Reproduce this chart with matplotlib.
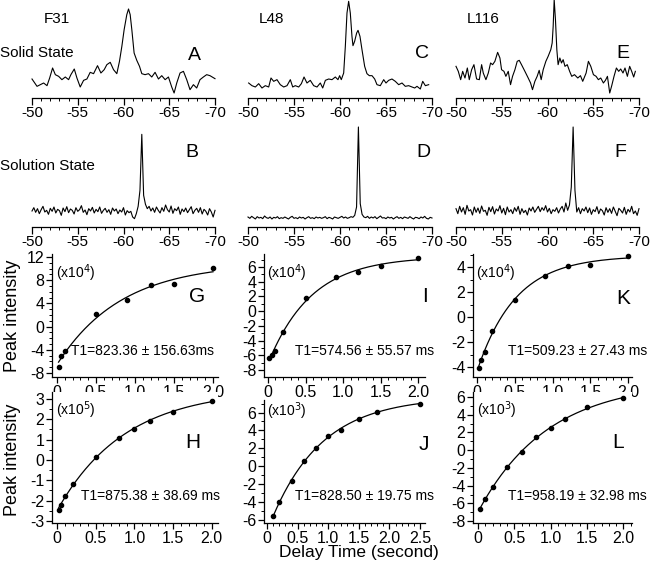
import numpy as np
import matplotlib
matplotlib.use('Agg')
import matplotlib.pyplot as plt
from matplotlib.ticker import MultipleLocator

plt.rcParams['font.family'] = ['Liberation Sans', 'DejaVu Sans']
plt.rcParams['axes.unicode_minus'] = False

# ---- solid state spectra (ppm, intensity) ----
a_ppm = [-50.0, -50.55, -50.91, -51.27, -51.64, -51.93, -52.25, -52.55, -52.91, -53.27,
         -53.64, -54.0, -54.25, -54.62, -54.91, -55.27, -55.64, -56.0, -56.36, -56.73,
         -57.16, -57.53, -57.89, -58.18, -58.55, -58.91, -59.27, -59.56, -59.82, -60.07,
         -60.36, -60.55, -60.73, -60.91, -61.16, -61.45, -61.75, -62.0, -62.36, -62.73,
         -63.09, -63.45, -63.82, -64.18, -64.55, -64.91, -65.27, -65.53, -65.82, -66.18,
         -66.55, -66.91, -67.27, -67.64, -68.0, -68.36, -68.73, -69.09, -69.45, -70.0]
a_int = [57, 35, 40, 45, 37, 60, 90, 70, 65, 55,
         63, 55, 70, 87, 60, 33, 53, 57, 77, 73,
         97, 75, 85, 100, 107, 85, 73, 110, 155, 205,
         250, 267, 250, 205, 135, 113, 95, 73, 70, 73,
         63, 77, 57, 67, 55, 63, 33, 15, 45, 75,
         80, 55, 25, 40, 30, 55, 63, 70, 67, 58]

c_ppm = [-50.07, -50.43, -50.8, -51.16, -51.52, -51.88, -52.25, -52.5, -52.79, -53.15,
         -53.51, -53.88, -54.24, -54.6, -54.86, -55.14, -55.51, -55.8, -56.09, -56.41,
         -56.77, -57.14, -57.5, -57.86, -58.12, -58.41, -58.77, -59.13, -59.49, -59.78,
         -59.96, -60.14, -60.4, -60.58, -60.76, -60.94, -61.12, -61.3, -61.41, -61.59,
         -61.81, -61.96, -62.17, -62.39, -62.68, -62.93, -63.19, -63.48, -63.77, -64.02,
         -64.38, -64.75, -65.0, -65.29, -65.65, -66.01, -66.38, -66.74, -67.1, -67.46,
         -67.83, -68.12, -68.37, -68.73, -68.99, -69.28, -69.64]
c_int = [45, 37, 33, 43, 30, 37, 33, 60, 50, 55,
         40, 33, 37, 55, 33, 37, 33, 43, 63, 45,
         53, 37, 33, 45, 30, 53, 57, 55, 63, 55,
         67, 55, 75, 155, 255, 290, 255, 185, 157, 170,
         195, 203, 185, 145, 95, 73, 67, 67, 57, 40,
         37, 55, 45, 53, 57, 50, 40, 45, 35, 37,
         33, 30, 35, 27, 50, 37, 40]

e_ppm = [-50.0, -50.25, -50.51, -50.73, -50.98, -51.24, -51.45, -51.71, -51.96, -52.25,
         -52.55, -52.8, -52.98, -53.27, -53.53, -53.78, -54.0, -54.25, -54.55, -54.8,
         -54.98, -55.24, -55.45, -55.71, -55.96, -56.18, -56.44, -56.69, -56.91, -57.16,
         -57.53, -57.89, -58.15, -58.36, -58.62, -58.87, -59.09, -59.31, -59.53, -59.82,
         -60.07, -60.36, -60.51, -60.62, -60.73, -60.87, -61.02, -61.16, -61.35, -61.53,
         -61.71, -61.91, -62.16, -62.42, -62.65, -62.95, -63.31, -63.6, -63.85, -64.22,
         -64.47, -64.73, -65.02, -65.31, -65.56, -65.82, -66.11, -66.33, -66.55, -66.8,
         -67.02, -67.27, -67.53, -67.78, -68.0, -68.25, -68.47, -68.73, -68.98, -69.2,
         -69.42, -69.6]
e_int = [95, 80, 55, 80, 60, 90, 55, 85, 100, 57,
         55, 100, 75, 55, 75, 105, 100, 110, 137, 120,
         85, 80, 65, 80, 40, 65, 85, 110, 113, 100,
         80, 60, 45, 25, 50, 65, 83, 55, 85, 110,
         125, 145, 165, 215, 295, 235, 145, 100, 120, 105,
         115, 95, 100, 80, 65, 70, 60, 67, 50, 75,
         110, 95, 70, 65, 55, 60, 45, 53, 65, 15,
         37, 65, 90, 80, 87, 75, 90, 65, 95, 80,
         63, 80]

# ---- solution state spectra, ppm grid -50 .. -70 (101 points) ----
sol_ppm = np.linspace(-50, -70, 101)
b_int = [48, 58, 44, 55, 40, 52, 62, 45, 50, 38, 56, 47, 60, 42, 53, 49, 35, 57, 46, 61,
         43, 54, 50, 39, 58, 47, 52, 64, 44, 51, 37, 55, 48, 59, 42, 53, 46, 60, 41, 50,
         56, 44, 52, 38, 57, 48, 54, 40, 51, 45, 58, 36, 49, 43, 47, 30, 25, 40, 62, 110,
         278, 95, 68, 55, 62, 48, 57, 44, 60, 50, 42, 58, 47, 66, 52, 45, 63, 41, 55, 49,
         60, 38, 54, 46, 57, 43, 52, 61, 40, 50, 56, 44, 58, 39, 53, 47, 36, 55, 45, 30, 50]
d_int = [30, 26, 32, 28, 24, 31, 27, 29, 25, 33, 28, 26, 30, 24, 29, 27, 31, 25, 28, 26,
         30, 27, 24, 29, 32, 26, 28, 25, 30, 27, 29, 24, 28, 31, 26, 28, 25, 30, 27, 29,
         26, 28, 31, 25, 29, 27, 24, 30, 28, 26, 29, 32, 27, 30, 26, 28, 31, 29, 35, 60,
         300, 70, 38, 30, 28, 32, 26, 30, 27, 31, 25, 29, 33, 27, 28, 25, 30, 27, 29, 24,
         28, 31, 26, 29, 25, 30, 28, 26, 31, 27, 24, 29, 28, 25, 30, 27, 32, 26, 24, 29, 27]
f_int = [55, 40, 62, 45, 58, 38, 65, 48, 52, 36, 60, 44, 57, 41, 63, 47, 50, 35, 59, 46,
         61, 39, 54, 48, 64, 42, 56, 37, 60, 45, 52, 40, 58, 47, 62, 38, 55, 43, 50, 36,
         57, 48, 60, 44, 53, 62, 46, 58, 50, 64, 45, 56, 40, 52, 47, 58, 42, 54, 62, 45,
         72, 50, 66, 120, 300, 110, 45, 58, 40, 55, 48, 60, 43, 57, 38, 52, 46, 61, 40, 54,
         49, 36, 58, 44, 55, 41, 60, 47, 34, 56, 50, 42, 59, 38, 53, 45, 62, 40, 48, 35, 55]

# ---- T1 relaxation data (delay in s, peak intensity) ----
g_t = [0.02, 0.05, 0.1, 0.5, 0.9, 1.2, 1.5, 2.0]
g_y = [-7.0, -5.1, -4.2, 2.1, 4.5, 7.1, 7.3, 10.1]
i_t = [0.02, 0.05, 0.1, 0.2, 0.5, 0.9, 1.2, 1.5, 2.0]
i_y = [-6.3, -5.9, -5.4, -2.9, 1.8, 4.6, 5.3, 6.1, 7.2]
k_t = [0.02, 0.05, 0.1, 0.2, 0.5, 0.9, 1.2, 1.5, 2.0]
k_y = [-4.1, -3.4, -2.8, -1.1, 1.4, 3.3, 4.1, 4.2, 4.85]
h_t = [0.02, 0.05, 0.1, 0.2, 0.5, 0.8, 1.0, 1.2, 1.5, 2.0]
h_y = [-2.45, -2.2, -1.78, -1.2, 0.13, 1.1, 1.53, 1.92, 2.35, 2.92]
j_t = [0.1, 0.2, 0.4, 0.6, 0.8, 1.0, 1.2, 1.5, 1.8, 2.5]
j_y = [-5.6, -4.0, -1.65, 0.6, 2.0, 3.35, 4.1, 5.3, 6.1, 6.95]
l_t = [0.02, 0.1, 0.2, 0.4, 0.6, 0.8, 1.0, 1.2, 1.5, 2.0]
l_y = [-6.65, -5.5, -4.2, -1.85, -0.15, 1.45, 2.45, 3.55, 4.85, 5.85]

t1_values = [0.82336, 0.57456, 0.50923, 0.87538, 0.82850, 0.95819]
t1_labels = ['T1=823.36 \u00b1 156.63ms', 'T1=574.56 \u00b1 55.57 ms', 'T1=509.23 \u00b1 27.43 ms',
             'T1=875.38 \u00b1 38.69 ms', 'T1=828.50 \u00b1 19.75 ms', 'T1=958.19 \u00b1 32.98 ms']
scales = ['(x10$^4$)', '(x10$^4$)', '(x10$^4$)', '(x10$^5$)', '(x10$^3$)', '(x10$^3$)']

W, H = 650, 564
fig = plt.figure(figsize=(W / 100, H / 100), dpi=100)


def px_axes(l, t, r, b):
    return fig.add_axes([l / W, 1 - b / H, (r - l) / W, (b - t) / H])


def px_text(x, y, s, size, **kw):
    fig.text(x / W, 1 - y / H, s, fontsize=size, ha=kw.pop('ha', 'center'),
             va=kw.pop('va', 'center'), **kw)


def spectrum(l, r, t, b, ppm, inten, ylim):
    ax = px_axes(l, t, r, b)
    ax.plot(ppm, inten, color='black', lw=0.8, clip_on=False)
    ax.set_xlim(-50, -70)
    ax.set_ylim(ylim)
    for s in ['left', 'right', 'top']:
        ax.spines[s].set_visible(False)
    ax.spines['bottom'].set_linewidth(0.9)
    ax.set_yticks([])
    ax.set_xticks([-50, -55, -60, -65, -70])
    ax.xaxis.set_minor_locator(MultipleLocator(1))
    ax.tick_params(axis='x', which='major', length=5, width=0.9, labelsize=11, pad=1)
    ax.tick_params(axis='x', which='minor', length=2.5, width=0.7)
    ax.patch.set_alpha(0)
    return ax


cols = [(32, 215), (248, 432), (456, 639)]
spectrum(*cols[0], 0, 98, a_ppm, a_int, (0, 294))
spectrum(*cols[1], 0, 98, c_ppm, c_int, (0, 294))
spectrum(*cols[2], 0, 98, e_ppm, e_int, (0, 294))
spectrum(*cols[0], 127, 227, sol_ppm, b_int, (0, 300))
spectrum(*cols[1], 127, 227, sol_ppm, d_int, (0, 300))
spectrum(*cols[2], 127, 227, sol_ppm, f_int, (0, 300))


def t1_panel(box, xlim, ylim, t, y, T1, xmaj, ymaj, yminor, label, scale, letter, lpos,
             spos, tpos):
    ax = px_axes(*box)
    t = np.array(t)
    y = np.array(y)
    # least squares for fixed T1: y = a + b*exp(-t/T1)
    M = np.column_stack([np.ones_like(t), np.exp(-t / T1)])
    coef = np.linalg.lstsq(M, y, rcond=None)[0]
    tt = np.linspace(t[0], t[-1], 200)
    ax.plot(tt, coef[0] + coef[1] * np.exp(-tt / T1), color='black', lw=0.9)
    ax.plot(t, y, 'o', color='black', ms=3, clip_on=False)
    ax.set_xlim(xlim)
    ax.set_ylim(ylim)
    for s in ['right', 'top']:
        ax.spines[s].set_visible(False)
    for s in ['left', 'bottom']:
        ax.spines[s].set_linewidth(0.9)
    ax.xaxis.set_major_locator(MultipleLocator(xmaj))
    ax.xaxis.set_minor_locator(MultipleLocator(xmaj / 5))
    ax.yaxis.set_major_locator(MultipleLocator(ymaj))
    ax.yaxis.set_minor_locator(MultipleLocator(yminor))
    ax.xaxis.set_major_formatter(lambda v, p: '0' if abs(v) < 1e-9 else f'{v:.1f}')
    ax.yaxis.set_major_formatter(lambda v, p: f'{v:.0f}')
    ax.tick_params(which='major', length=4, width=0.9, labelsize=11.5, pad=1.5)
    ax.tick_params(which='minor', length=2, width=0.7)
    px_text(spos[0], spos[1], scale, 10, ha='left')
    px_text(tpos[0], tpos[1], label, 10, ha='right')
    px_text(lpos[0], lpos[1], letter, 15)
    return ax


t1_panel((52, 254, 218, 377), (-0.064, 2.064), (-8.7, 12.5), g_t, g_y, t1_values[0],
         0.5, 4, 1, t1_labels[0], scales[0], 'G', (197, 297), (56, 273), (214, 351))
t1_panel((264, 254, 425, 377), (-0.053, 2.09), (-8.95, 7.77), i_t, i_y, t1_values[1],
         0.5, 2, 1, t1_labels[1], scales[1], 'I', (425, 297), (267, 273), (434, 351))
t1_panel((473, 254, 632, 377), (-0.053, 2.05), (-4.8, 5.04), k_t, k_y, t1_values[2],
         0.5, 2, 1, t1_labels[2], scales[2], 'K', (623, 298), (476, 273), (647, 351))
t1_panel((52, 392, 218, 523), (-0.065, 2.08), (-3.1, 3.34), h_t, h_y, t1_values[3],
         0.5, 1, 0.5, t1_labels[3], scales[3], 'H', (193, 443), (56, 410), (220, 496))
t1_panel((264, 400, 425, 523), (-0.05, 2.58), (-6.34, 7.4), j_t, j_y, t1_values[4],
         0.5, 2, 1, t1_labels[4], scales[4], 'J', (424, 444), (267, 411), (434, 496))
t1_panel((473, 392, 632, 523), (-0.07, 2.12), (-8.2, 6.56), l_t, l_y, t1_values[5],
         0.5, 2, 1, t1_labels[5], scales[5], 'L', (618, 443), (477, 410), (647, 496))

# labels
px_text(57, 19, 'F31', 11)
px_text(272, 19, 'L48', 11)
px_text(483, 19, 'L116', 11)
px_text(0, 53, 'Solid State', 11, ha='left')
px_text(0, 166, 'Solution State', 11, ha='left')
for x, y, s in [(194, 56, 'A'), (422, 54, 'C'), (623, 54, 'E'),
                (192, 153, 'B'), (423, 153, 'D'), (620, 153, 'F')]:
    px_text(x, y, s, 14)
px_text(13, 316, 'Peak intensity', 13, rotation=90)
px_text(13, 460, 'Peak intensity', 13, rotation=90)
px_text(359, 553, 'Delay Time (second)', 12.5)

fig.savefig('out.png', dpi=100)
